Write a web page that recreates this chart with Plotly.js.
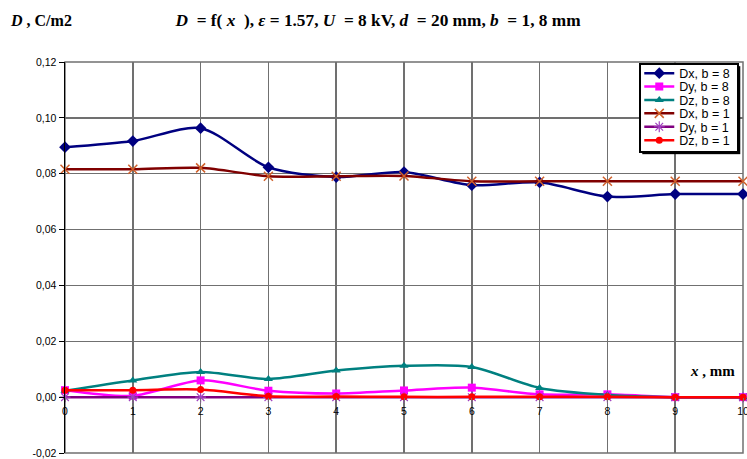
<!DOCTYPE html>
<html>
<head>
<meta charset="utf-8">
<script src="https://cdn.plot.ly/plotly-3.0.1.min.js"></script>
<style>html,body{margin:0;padding:0;background:#fff;}#chart{width:747px;height:459px;}</style>
</head>
<body>
<div id="chart"></div>
<script>
const xValues = [0, 1, 2, 3, 4, 5, 6, 7, 8, 9, 10];
const dxB8 = [0.0895, 0.0917, 0.0963, 0.0823, 0.0788, 0.0806, 0.0759, 0.0769, 0.0718, 0.0727, 0.0727];
const dyB8 = [0.0025, 0.0005, 0.0060, 0.0023, 0.0013, 0.0024, 0.0034, 0.0010, 0.0010, 0.0000, 0.0000];
const dzB8 = [0.0023, 0.0060, 0.0090, 0.0065, 0.0095, 0.0112, 0.0108, 0.0033, 0.0008, 0.0000, 0.0000];
const dxB1 = [0.0816, 0.0816, 0.0821, 0.0791, 0.0791, 0.0792, 0.0773, 0.0773, 0.0773, 0.0773, 0.0773];
const dyB1 = [0, 0, 0, 0, 0, 0, 0, 0, 0, 0, 0];
const dzB1 = [0.0025, 0.0025, 0.0027, 0.0003, 0.0002, 0.0001, 0.0001, 0.0001, 0.0001, 0.0000, 0.0000];
const seriesNames = ["Dx, b = 8", "Dy, b = 8", "Dz, b = 8", "Dx, b = 1", "Dy, b = 1", "Dz, b = 1"];
const yTickVals = [-0.02, 0, 0.02, 0.04, 0.06, 0.08, 0.10, 0.12];
const yTickText = ["-0,02", "0,00", "0,02", "0,04", "0,06", "0,08", "0,10", "0,12"];
const xTickVals = [0, 1, 2, 3, 4, 5, 6, 7, 8, 9, 10];
const xTickText = ["0", "1", "2", "3", "4", "5", "6", "7", "8", "9", "10"];

function tr(y, name, lineColor, symbol, markerColor, size, extra) {
  return {
    x: xValues, y: y, name: name, type: 'scatter', mode: 'lines+markers',
    line: {color: lineColor, width: 2.5, shape: 'spline', smoothing: 0.8},
    marker: Object.assign({symbol: symbol, color: markerColor, size: size}, extra || {}),
    cliponaxis: false
  };
}
const traces = [
  tr(dxB8, seriesNames[0], '#000080', 'diamond', '#000080', 9),
  tr(dyB8, seriesNames[1], '#FF00FF', 'square', '#FF00FF', 8),
  tr(dzB8, seriesNames[2], '#008080', 'triangle-up', '#008080', 8),
  tr(dxB1, seriesNames[3], '#800000', 'x-thin-open', '#D0602A', 9, {line: {color: '#D0602A', width: 1.5}}),
  tr(dyB1, seriesNames[4], '#800080', 'asterisk-open', '#A040C0', 9, {line: {color: '#A040C0', width: 1.2}}),
  tr(dzB1, seriesNames[5], '#FF0000', 'circle', '#FF0000', 7)
];

const layout = {
  width: 747, height: 459,
  margin: {l: 65, r: 4, t: 62, b: 6},
  paper_bgcolor: '#fff', plot_bgcolor: '#fff',
  font: {family: 'Liberation Sans, Arial, sans-serif', size: 10, color: '#000'},
  title: {
    text: '<b><i>D</i>  = f( <i>x</i>  ), <i>ε</i> = 1.57, <i>U</i>  = 8 kV, <i>d</i>  = 20 mm, <i>b</i>  = 1, 8 mm</b>',
    font: {family: 'Liberation Serif, Times New Roman, serif', size: 17.3, color: '#000'},
    x: 0.4617, xref: 'paper', xanchor: 'center',
    y: 0.956, yref: 'container', yanchor: 'middle'
  },
  xaxis: {
    range: [0, 10], anchor: 'free', position: 1/7,
    tickvals: xTickVals, ticktext: xTickText,
    showgrid: true, gridcolor: '#707070', gridwidth: 1.5,
    showline: false, zeroline: false,
    ticks: 'outside', ticklen: 4, tickcolor: '#707070',
    ticklabeloverflow: 'allow',
    tickfont: {family: 'Liberation Sans, Arial, sans-serif', size: 10.5, color: '#000'},
    fixedrange: true
  },
  yaxis: {
    range: [-0.02, 0.12],
    tickvals: yTickVals, ticktext: yTickText,
    showgrid: true, gridcolor: '#707070', gridwidth: 1.5,
    zeroline: true, zerolinecolor: '#707070', zerolinewidth: 1.5,
    showline: true, linecolor: '#000', linewidth: 1.5,
    ticks: 'outside', ticklen: 5, tickcolor: '#000',
    tickfont: {family: 'Liberation Sans, Arial, sans-serif', size: 10.5, color: '#000'},
    fixedrange: true
  },
  showlegend: true,
  legend: {
    x: 0.847, y: 0.997, xanchor: 'left', yanchor: 'top',
    bgcolor: '#fff', bordercolor: '#000', borderwidth: 2,
    font: {family: 'Liberation Sans, Arial, sans-serif', size: 12.5, color: '#000'},
    itemwidth: 30
  },
  shapes: [
    {type: 'rect', xref: 'paper', yref: 'paper', x0: 0, x1: 1, y0: 0, y1: 1, line: {color: '#707070', width: 1.5}, layer: 'below'}
  ],
  annotations: [
    {text: '<b><i>D</i> , C/m2</b>', xref: 'paper', yref: 'paper', x: -0.084, y: 1.107, xanchor: 'left', yanchor: 'middle', showarrow: false,
     font: {family: 'Liberation Serif, Times New Roman, serif', size: 16, color: '#000'}},
    {text: '<b><i>x</i> , mm</b>', xref: 'paper', yref: 'y', x: 0.991, y: 0.0095, xanchor: 'right', yanchor: 'middle', showarrow: false,
     font: {family: 'Liberation Serif, Times New Roman, serif', size: 15, color: '#000'}}
  ]
};

function compactLegend(gd) {
  const legend = gd.querySelector('.legend');
  if (!legend) return;
  const items = legend.querySelectorAll('.traces');
  const spacing = 13.4, top = 10;
  items.forEach(function (el, i) {
    el.setAttribute('transform', 'translate(0,' + (top + i * spacing) + ')');
  });
  const h = top + (items.length - 1) * spacing + 11;
  const bg = legend.querySelector('rect.bg');
  if (bg) {
    bg.setAttribute('height', h);
    const w = parseFloat(bg.getAttribute('width'));
    const shadow = document.createElementNS('http://www.w3.org/2000/svg', 'rect');
    shadow.setAttribute('x', 3); shadow.setAttribute('y', 3);
    shadow.setAttribute('width', w); shadow.setAttribute('height', h);
    shadow.setAttribute('fill', '#000');
    legend.insertBefore(shadow, bg);
  }
  gd.querySelectorAll('clipPath rect').forEach(function (r) {
    const p = r.parentNode;
    if (p && p.id && p.id.indexOf('legend') >= 0) r.setAttribute('height', h);
  });
}

Plotly.newPlot('chart', traces, layout, {displayModeBar: false, staticPlot: true}).then(compactLegend);
</script>
</body>
</html>
